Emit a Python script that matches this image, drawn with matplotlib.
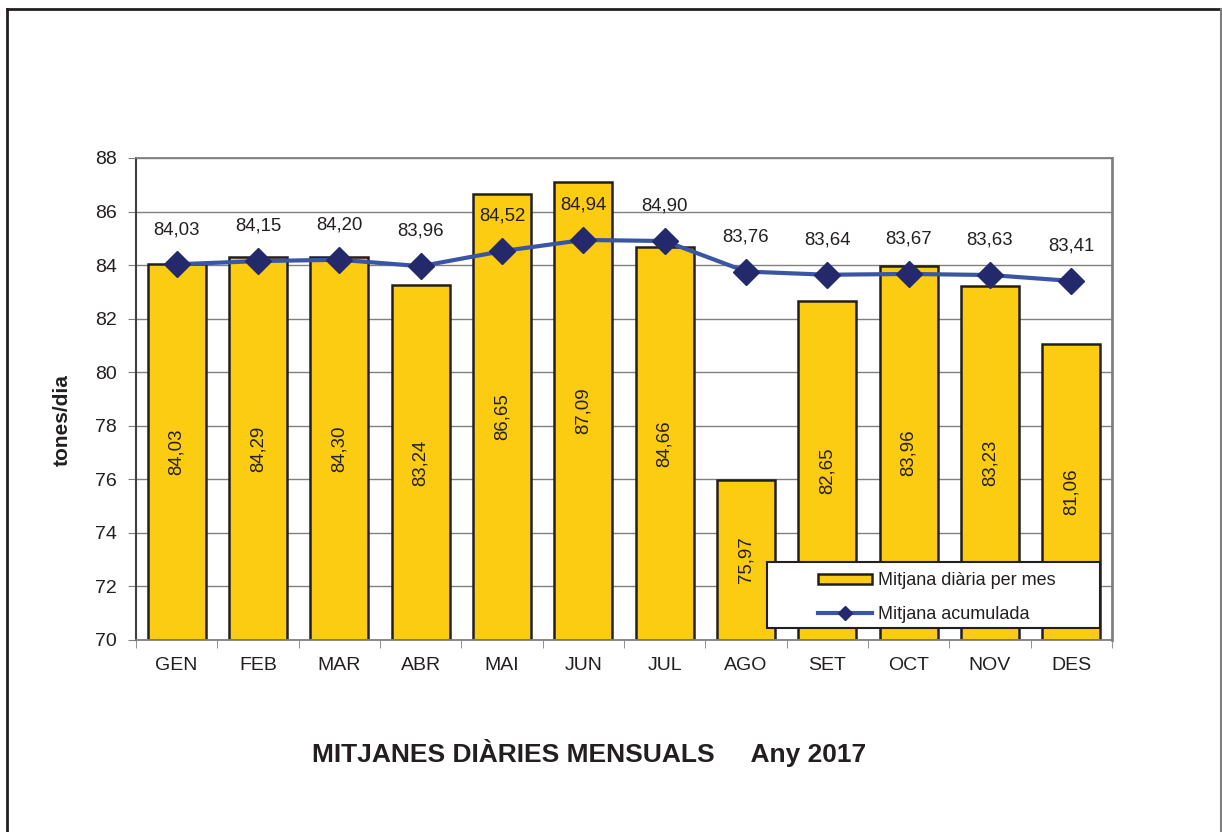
import matplotlib
matplotlib.use('Agg')
from matplotlib import pyplot as plt
from matplotlib.lines import Line2D
from matplotlib.patches import Rectangle
import numpy as np

mesos = ['GEN', 'FEB', 'MAR', 'ABR', 'MAI', 'JUN', 'JUL', 'AGO', 'SET', 'OCT', 'NOV', 'DES']
mitjana_mes = [84.03, 84.29, 84.30, 83.24, 86.65, 87.09, 84.66, 75.97, 82.65, 83.96, 83.23, 81.06]
mitjana_acum = [84.03, 84.15, 84.20, 83.96, 84.52, 84.94, 84.90, 83.76, 83.64, 83.67, 83.63, 83.41]
y_ticks = [70, 72, 74, 76, 78, 80, 82, 84, 86, 88]

groc = '#FBCC12'
blau = '#3A55A4'
marca = '#24296B'
txt = '#231F20'

plt.rcParams['font.family'] = ['Liberation Sans', 'DejaVu Sans']
plt.rcParams['text.color'] = txt

def coma(v):
    return f'{v:.2f}'.replace('.', ',')

fig = plt.figure(figsize=(12.22, 8.32), dpi=100)
ax = fig.add_axes([136/1222, 1-640/832, 976/1222, 482/832])

x = np.arange(len(mesos))
ax.bar(x, np.array(mitjana_mes) - 70, bottom=70, width=0.715, color=groc,
       edgecolor=txt, linewidth=1.8, zorder=2, label='Mitjana diària per mes')
ax.plot(x, mitjana_acum, color=blau, linewidth=3, marker='D', markersize=13,
        markerfacecolor=marca, markeredgecolor=marca, zorder=3)

for xi, v in zip(x, mitjana_mes):
    ax.text(xi, (v + 70) / 2, coma(v), rotation=90, ha='center', va='center',
            fontsize=13.4, color=txt, zorder=4)
for xi, v in zip(x, mitjana_acum):
    ax.annotate(coma(v), (xi, v), xytext=(0, 25), textcoords='offset points',
                ha='center', va='center', fontsize=13.4, color=txt, zorder=4)

ax.set_xlim(-0.5, 11.5)
ax.set_ylim(70, 88)
ax.set_yticks(y_ticks)
ax.set_xticks(x)
ax.set_xticklabels(mesos)
ax.set_xticks(np.arange(-0.5, 12, 1), minor=True)
ax.tick_params(axis='x', which='major', length=0, pad=12, labelsize=14, labelcolor=txt)
ax.tick_params(axis='x', which='minor', length=6, color='#808080', direction='out')
ax.tick_params(axis='y', length=6, pad=8, labelsize=14, labelcolor=txt, color='#808080')
ax.yaxis.grid(True, color='#808080', linewidth=1)
ax.set_axisbelow(True)
for s in ['top', 'right', 'bottom']:
    ax.spines[s].set_color('#808080')
    ax.spines[s].set_linewidth(1.3)
ax.spines['right'].set_linewidth(2)
ax.spines['left'].set_color('#404040')
ax.spines['left'].set_linewidth(1.5)

# caixa de la llegenda
ax.add_patch(Rectangle((631/976, 12/482), 333/976, 66/482, transform=ax.transAxes,
                       facecolor='white', edgecolor=txt, linewidth=1.5, zorder=5))
h_linia = Line2D([0], [0], color=blau, linewidth=3, marker='D', markersize=7,
                 markerfacecolor=marca, markeredgecolor=marca)
h_bar = ax.containers[0].patches[0]
leg = ax.legend([h_bar, h_linia], ['Mitjana diària per mes', 'Mitjana acumulada'],
                loc='upper left', bbox_to_anchor=(676/976, 74/482),
                fontsize=13, frameon=False, handlelength=3.0, handleheight=0.5,
                handletextpad=0.3, labelspacing=0.9, borderpad=0.35, borderaxespad=0)
leg.set_zorder(6)

fig.text(62/1222, 1-420/832, 'tones/dia', rotation=90, ha='center', va='center',
         fontsize=15, fontweight='bold')
fig.text(589/1222, 1-753/832, 'MITJANES DIÀRIES MENSUALS     Any 2017', ha='center',
         va='center', fontsize=19, fontweight='bold')

# marc exterior
fig.add_artist(Line2D([7/1222, 7/1222], [-0.01, 1-9/832], transform=fig.transFigure,
                      color=txt, linewidth=2))
fig.add_artist(Line2D([7/1222, 1221/1222], [1-9/832, 1-9/832], transform=fig.transFigure,
                      color=txt, linewidth=2))
fig.add_artist(Line2D([1221/1222, 1221/1222], [-0.01, 1-9/832], transform=fig.transFigure,
                      color='#808080', linewidth=1.5))

fig.savefig('out.png', dpi=100)
